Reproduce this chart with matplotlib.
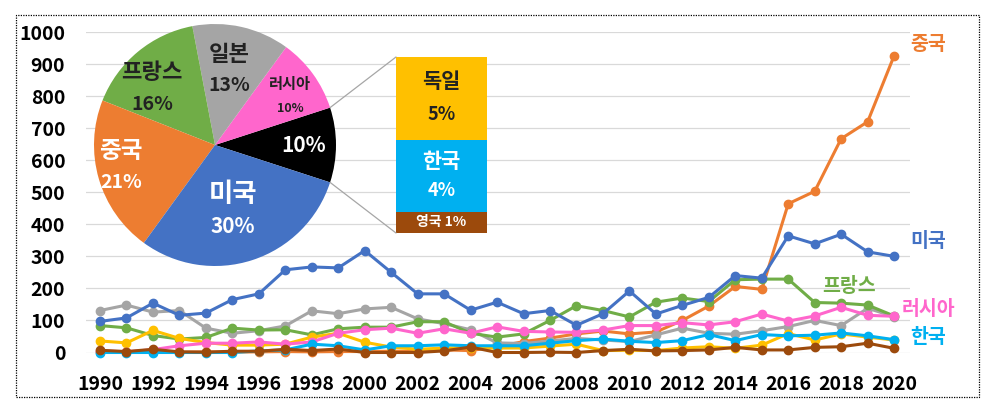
import numpy as np
import matplotlib.pyplot as plt
from matplotlib.patches import Rectangle, ConnectionPatch

plt.rcParams['font.family'] = ['Noto Sans CJK KR', 'DejaVu Sans']
plt.rcParams['font.weight'] = 'bold'

years = list(range(1990, 2021))

usa = [97, 108, 154, 116, 123, 165, 183, 258, 267, 264, 318, 250, 183, 183, 132, 157, 121, 131, 85, 121,
       192, 120, 147, 172, 240, 232, 364, 339, 369, 314, 300]
china = [2, 1, 3, 1, 2, 1, 2, 3, 2, 3, 3, 4, 4, 8, 6, 18, 34, 45, 58, 67,
         58, 64, 100, 145, 206, 197, 464, 503, 667, 720, 926]
france = [84, 77, 53, 42, 47, 76, 70, 71, 55, 74, 79, 79, 96, 96, 60, 48, 58, 100, 146, 131,
          111, 157, 170, 159, 227, 229, 229, 156, 154, 148, 114]
japan = [131, 148, 126, 131, 76, 60, 68, 83, 130, 121, 136, 141, 105, 90, 71, 30, 28, 36, 44, 39,
         34, 55, 76, 60, 57, 68, 81, 100, 84, 138, 112]
russia = [5, 2, 9, 21, 29, 29, 33, 26, 33, 60, 71, 76, 60, 74, 60, 80, 66, 64, 63, 70,
          84, 84, 93, 86, 96, 120, 98, 114, 141, 116, 113]
germany = [36, 30, 69, 44, 31, 23, 23, 26, 48, 60, 32, 17, 10, 14, 15, 14, 14, 20, 26, 6,
           7, 6, 14, 18, 13, 23, 59, 39, 58, 48, 39]
korea = [0, 0, 0, 0, 0, 0, 5, 8, 26, 21, 8, 21, 21, 24, 21, 21, 21, 29, 37, 42,
         35, 31, 37, 56, 37, 56, 52, 54, 61, 52, 40]
uk = [7, 3, 10, 2, 1, 4, 4, 10, 6, 11, 0, 0, 0, 5, 17, 0, 0, 1, 0, 6,
      10, 5, 6, 8, 16, 8, 8, 16, 18, 29, 13]

# series in drawing order: (name, values, colour, end label y)
series = [
    ("중국", china, "#ED7D31", 960),
    ("일본", japan, "#A5A5A5", None),
    ("프랑스", france, "#70AD47", None),
    ("독일", germany, "#FFC000", None),
    ("러시아", russia, "#FF66CC", 133),
    ("한국", korea, "#00B0F0", 48),
    ("영국", uk, "#9C4A0C", None),
    ("미국", usa, "#4472C4", 345),
]

pie_names = ["기타", "러시아", "일본", "프랑스", "중국", "미국"]
pie_share = [10, 10, 13, 16, 21, 30]
pie_colors = ["#000000", "#FF66CC", "#A5A5A5", "#70AD47", "#ED7D31", "#4472C4"]

bar_names = ["영국", "한국", "독일"]
bar_share = [1.2, 4.1, 4.7]
bar_labels = ["1%", "4%", "5%"]
bar_colors = ["#9C4A0C", "#00B0F0", "#FFC000"]

W, H = 993, 417


def box(x0, y0, x1, y1):
    # pixel box (top-left origin) -> figure fraction rect
    return [x0 / W, 1 - y1 / H, (x1 - x0) / W, (y1 - y0) / H]


fig = plt.figure(figsize=(W / 100, H / 100), dpi=100)
fig.patches.append(Rectangle((16 / W, 1 - 397 / H), 963 / W, 382 / H, transform=fig.transFigure,
                             fill=False, ec="black", ls=(0, (1, 1)), lw=0.9))

ax = fig.add_axes(box(86, 32, 910, 352.5))
for name, vals, col, ly in series:
    ax.plot(years, vals, color=col, lw=2.2, marker="o", ms=6, clip_on=False)

ax.set_xlim(1989.47, 2020.6)
ax.set_ylim(0, 1000)
ax.set_xticks(years[::2])
ax.set_yticks(range(0, 1001, 100))
ax.tick_params(length=0, labelsize=14)
ax.tick_params(axis="y", pad=15)
ax.tick_params(axis="x", pad=16)
ax.yaxis.grid(True, color="#D9D9D9", lw=0.9)
ax.set_axisbelow(True)
for s in ax.spines.values():
    s.set_visible(False)

for name, vals, col, ly in series:
    if ly is not None:
        ax.text(2021.3, ly, name, color=col, fontsize=14, fontweight="bold",
                ha="center", va="center", clip_on=False)
ax.text(2018.3, 205, "프랑스", color="#70AD47", fontsize=14, fontweight="bold",
        ha="center", va="center")

# pie inset
axp = fig.add_axes(box(94, 24, 336, 266))
wedges, _ = axp.pie(pie_share, colors=pie_colors, startangle=-18, counterclock=True,
                    wedgeprops=dict(lw=0))
axp.set_xlim(-1, 1)
axp.set_ylim(-1, 1)
axp.set_aspect("equal")
axp.axis("off")

# per slice: (radius, angle shift, name size, pct size, text colour)
pie_text = {
    "기타": (0.73, 0, None, 15, "white"),
    "러시아": (0.74, -3, 11, 9, "#222222"),
    "일본": (0.63, 2, 16, 14, "#222222"),
    "프랑스": (0.70, 8.5, 16, 14, "#222222"),
    "중국": (0.80, -3, 17, 14, "white"),
    "미국": (0.56, -3, 19, 15, "white"),
}
for w, name, share in zip(wedges, pie_names, pie_share):
    r, dang, s1, s2, tc = pie_text[name]
    ang = np.deg2rad((w.theta1 + w.theta2) / 2 + dang)
    cx, cy = r * np.cos(ang), r * np.sin(ang)
    if s1 is None:
        axp.text(cx, cy, f"{share}%", color=tc, fontsize=s2, fontweight="bold",
                 ha="center", va="center")
    else:
        gap = 0.13 if s1 > 12 else 0.1
        axp.text(cx, cy + gap, name, color=tc, fontsize=s1, fontweight="bold",
                 ha="center", va="center")
        axp.text(cx, cy - gap, f"{share}%", color=tc, fontsize=s2, fontweight="bold",
                 ha="center", va="center")

# bar of pie
axb = fig.add_axes(box(396, 57, 487, 233))
bottom = 0
for name, share, lab, col in zip(bar_names, bar_share, bar_labels, bar_colors):
    axb.bar(0, share, bottom=bottom, width=1, color=col, lw=0)
    mid = bottom + share / 2
    if name == "영국":
        axb.text(0, mid, f"{name} {lab}", color="white", fontsize=10, fontweight="bold",
                 ha="center", va="center")
    else:
        tc = "#222222" if name == "독일" else "white"
        axb.text(0, mid + share * 0.2, name, color=tc, fontsize=15, fontweight="bold",
                 ha="center", va="center")
        axb.text(0, mid - share * 0.2, lab, color=tc, fontsize=13, fontweight="bold",
                 ha="center", va="center")
    bottom += share
axb.set_xlim(-0.5, 0.5)
axb.set_ylim(0, bottom)
axb.axis("off")

# connector lines from the "other" slice to the bar
w0 = wedges[0]
for th, yb in [(w0.theta2, bottom), (w0.theta1, 0)]:
    t = np.deg2rad(th)
    con = ConnectionPatch(xyA=(np.cos(t), np.sin(t)), coordsA=axp.transData,
                          xyB=(-0.5, yb), coordsB=axb.transData,
                          color="#A6A6A6", lw=0.9)
    fig.add_artist(con)

fig.savefig("out.png", dpi=100)
